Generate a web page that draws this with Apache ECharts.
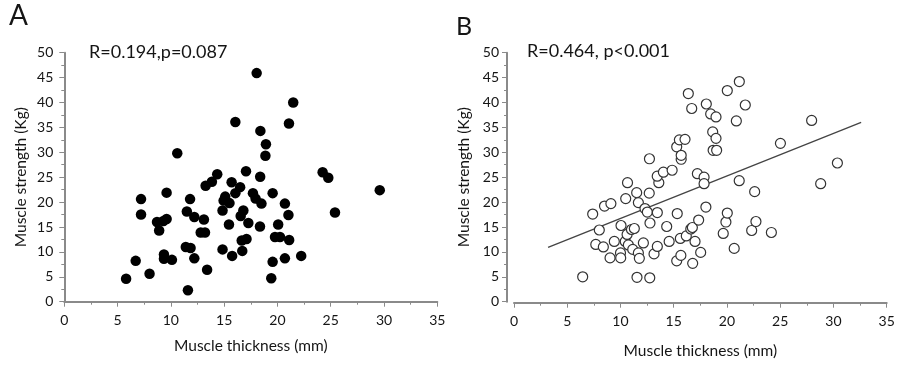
<!DOCTYPE html>
<html>
<head>
<meta charset="utf-8">
<script src="https://cdn.jsdelivr.net/npm/echarts@6/dist/echarts.min.js"></script>
<style>html,body{margin:0;padding:0;background:#fff;}#c{width:900px;height:365px;}</style>
</head>
<body>
<div id="c"></div>
<script>
// Panel A: muscle thickness (mm) vs muscle strength (Kg), filled markers
const aThickness = [5.8,6.7,8.0,7.2,7.2,8.7,8.9,9.3,9.6,9.6,9.35,9.35,10.1,10.6,11.5,11.8,11.4,11.85,12.2,12.2,11.6,13.26,13.85,14.35,13.1,12.8,13.2,13.4,14.85,14.95,15.1,15.5,14.85,15.45,15.7,16.05,16.05,16.5,15.75,16.7,16.55,16.8,16.65,17.1,17.27,17.05,17.7,18.05,17.95,18.4,18.92,18.87,18.38,18.5,18.36,19.55,20.07,19.77,20.24,19.55,19.42,20.7,20.7,21.03,21.1,21.08,21.48,22.23,24.24,24.77,25.4,29.6];
const aStrength  = [4.6,8.2,5.6,20.6,17.5,16.0,14.3,16.2,16.6,21.9,9.5,8.6,8.4,29.8,18.1,20.6,11.0,10.8,17.0,8.7,2.3,23.3,24.1,25.6,16.5,13.9,13.9,6.4,18.3,20.3,21.1,19.8,10.5,15.5,24.0,36.1,21.8,23.0,9.2,10.2,17.2,18.3,12.3,12.6,15.8,26.2,21.8,45.9,20.7,34.3,31.6,29.3,25.1,19.7,15.1,21.8,15.5,13.0,13.0,8.0,4.7,8.7,19.7,17.4,12.4,35.8,40.0,9.2,26.0,24.9,17.9,22.4];

// Panel B: open markers with a fitted line
const bThickness = [6.45,7.39,7.68,8.01,8.5,8.39,9.1,9.02,9.42,10.0,10.02,10.05,10.49,10.66,10.45,10.62,10.74,11.03,11.3,11.15,11.52,11.68,11.68,11.77,11.55,12.15,12.3,12.52,12.7,12.72,12.77,12.75,13.15,13.46,13.46,13.6,13.45,14.03,14.34,14.57,14.85,15.28,15.53,15.33,15.7,15.7,16.06,15.62,15.28,15.67,16.18,16.6,16.75,16.37,16.69,16.78,17.0,17.34,17.22,17.53,17.85,17.85,18.02,18.06,18.47,18.97,18.66,18.97,18.7,19.03,19.65,19.9,20.03,20.03,20.68,20.88,21.16,21.15,21.72,22.32,22.6,22.72,24.17,25.02,27.95,28.8,30.37];
const bStrength  = [5.0,17.6,11.5,14.4,19.2,11.0,19.7,8.8,12.1,9.8,8.8,15.3,20.7,23.9,12.1,13.5,11.4,14.5,14.7,10.5,21.9,19.9,9.8,8.7,4.9,11.8,18.7,18.0,21.8,28.7,15.8,4.8,9.6,11.1,17.9,23.9,25.2,26.0,15.1,12.1,26.4,31.1,32.5,17.7,28.6,29.4,32.6,12.7,8.2,9.3,13.2,14.6,14.9,41.8,38.8,7.7,12.1,16.4,25.7,9.9,25.0,23.7,19.0,39.7,37.7,37.1,34.1,32.8,30.4,30.4,13.7,16.0,17.8,42.4,10.7,36.3,44.2,24.3,39.5,14.3,22.1,16.1,13.9,31.8,36.4,23.7,27.85];
const bTrendX = [3.2, 32.6];
const bTrendY = [10.9, 36.0];

const xTitle = 'Muscle thickness (mm)';
const yTitle = 'Muscle strength (Kg)';
const statA = 'R=0.194,p=0.087';
const statB = 'R=0.464, p<0.001';

const FONT = 'Lato, "Open Sans", sans-serif';
const AXIS_COLOR = '#8a8a8a';
const TEXT_COLOR = '#151515';

function zip(xs, ys) { return xs.map((x, i) => [x, ys[i]]); }

function xAxisCfg(gridIndex, nameGap, offset) {
  return {
    gridIndex, type: 'value', min: 0, max: 35, interval: 5, offset,
    name: xTitle, nameLocation: 'middle', nameGap,
    nameTextStyle: { fontFamily: FONT, fontSize: 15.5, color: TEXT_COLOR },
    axisLine: { show: true, onZero: false, lineStyle: { color: AXIS_COLOR, width: 2 } },
    axisTick: { show: true, length: 5, lineStyle: { color: AXIS_COLOR, width: 1 } },
    minorTick: { show: true, splitNumber: 2, length: 3, lineStyle: { color: AXIS_COLOR, width: 1 } },
    axisLabel: { fontFamily: FONT, fontSize: 14, color: TEXT_COLOR, margin: 12 },
    splitLine: { show: false }
  };
}
function yAxisCfg(gridIndex, offset, margin) {
  return {
    gridIndex, type: 'value', min: 0, max: 50, interval: 5, offset,
    name: yTitle, nameLocation: 'middle', nameGap: 35, nameRotate: 90,
    nameTextStyle: { fontFamily: FONT, fontSize: 15.5, color: TEXT_COLOR },
    axisLine: { show: true, onZero: false, lineStyle: { color: AXIS_COLOR, width: 2 } },
    axisTick: { show: true, length: 5, lineStyle: { color: AXIS_COLOR, width: 1 } },
    minorTick: { show: true, splitNumber: 2, length: 3, lineStyle: { color: AXIS_COLOR, width: 1 } },
    axisLabel: { fontFamily: FONT, fontSize: 14, color: TEXT_COLOR, margin },
    splitLine: { show: false }
  };
}

const chart = echarts.init(document.getElementById('c'), null, { renderer: 'canvas' });
chart.setOption({
  animation: false,
  backgroundColor: '#fff',
  grid: [
    { left: 64.3, top: 52.7, width: 373, height: 249 },
    { left: 514, top: 52.7, width: 372.7, height: 249 }
  ],
  xAxis: [ xAxisCfg(0, 36, 0), xAxisCfg(1, 40, 1) ],
  yAxis: [ yAxisCfg(0, 0, 11), yAxisCfg(1, 7, 8) ],
  graphic: [
    { type: 'text', left: 9, top: 2, style: { text: 'A', fontFamily: FONT, fontSize: 28, fill: TEXT_COLOR } },
    { type: 'text', left: 456, top: 14, style: { text: 'B', fontFamily: FONT, fontSize: 25, fill: TEXT_COLOR } },
    { type: 'text', left: 89, top: 43, style: { text: statA, fontFamily: FONT, fontSize: 18, fill: TEXT_COLOR } },
    { type: 'text', left: 527, top: 42, style: { text: statB, fontFamily: FONT, fontSize: 18, fill: TEXT_COLOR } }
  ],
  series: [
    {
      type: 'scatter', xAxisIndex: 0, yAxisIndex: 0,
      data: zip(aThickness, aStrength),
      symbol: 'circle', symbolSize: 10.5,
      itemStyle: { color: '#000', opacity: 1 }
    },
    {
      type: 'line', xAxisIndex: 1, yAxisIndex: 1,
      data: zip(bTrendX, bTrendY),
      showSymbol: false, symbol: 'none',
      lineStyle: { color: '#444', width: 1.3 }, z: 1
    },
    {
      type: 'scatter', xAxisIndex: 1, yAxisIndex: 1,
      data: zip(bThickness, bStrength),
      symbol: 'circle', symbolSize: 10,
      itemStyle: { color: '#fff', borderColor: '#333', borderWidth: 1.2, opacity: 1 }, z: 2
    }
  ]
});
</script>
</body>
</html>
